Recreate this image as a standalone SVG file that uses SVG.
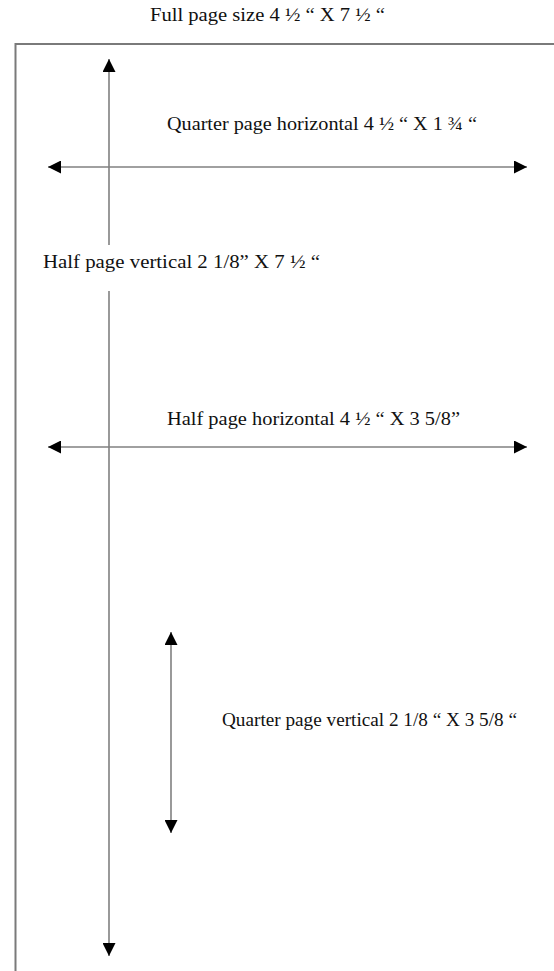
<svg xmlns="http://www.w3.org/2000/svg" width="554" height="971" viewBox="0 0 554 971">
<defs>
<style>
.lbl{font-family:"Liberation Serif","Times New Roman",serif;font-size:19px;fill:#111}
.ln{stroke:#808080;stroke-width:1.6;fill:none}
.pg{stroke:#7a7a7a;stroke-width:2;fill:none}
</style>
<marker id="ah" viewBox="0 0 10 10" refX="10" refY="5" markerWidth="13" markerHeight="13" markerUnits="userSpaceOnUse" orient="auto-start-reverse">
<path d="M0,0 L10,5 L0,10 Z" fill="#000"/>
</marker>
</defs>
<rect width="554" height="971" fill="#fff"/>
<g id="page">
<path class="pg" d="M15.5,971 L15.5,44 L554,44"/>
<text class="lbl" x="150" y="21" textLength="235" lengthAdjust="spacingAndGlyphs">Full page size 4 ½ “ X 7 ½ “</text>
</g>
<g id="connectors">
<line class="ln" x1="109" y1="245" x2="109" y2="59" marker-end="url(#ah)"/>
<line class="ln" x1="109" y1="291" x2="109" y2="956" marker-end="url(#ah)"/>
<line class="ln" x1="48" y1="167" x2="527" y2="167" marker-start="url(#ah)" marker-end="url(#ah)"/>
<line class="ln" x1="48" y1="447" x2="527" y2="447" marker-start="url(#ah)" marker-end="url(#ah)"/>
<line class="ln" x1="171" y1="632" x2="171" y2="833" marker-start="url(#ah)" marker-end="url(#ah)"/>
</g>
<g id="quarter-horizontal">
<text class="lbl" x="167" y="130" textLength="310" lengthAdjust="spacingAndGlyphs">Quarter page horizontal 4 ½ “ X 1 ¾ “</text>
</g>
<g id="half-vertical">
<text class="lbl" x="43" y="268" textLength="277" lengthAdjust="spacingAndGlyphs">Half page vertical 2 1/8” X 7 ½ “</text>
</g>
<g id="half-horizontal">
<text class="lbl" x="167" y="425" textLength="293" lengthAdjust="spacingAndGlyphs">Half page horizontal 4 ½ “ X 3 5/8”</text>
</g>
<g id="quarter-vertical">
<text class="lbl" x="222" y="726" textLength="295" lengthAdjust="spacingAndGlyphs">Quarter page vertical 2 1/8 “ X 3 5/8 “</text>
</g>
</svg>
